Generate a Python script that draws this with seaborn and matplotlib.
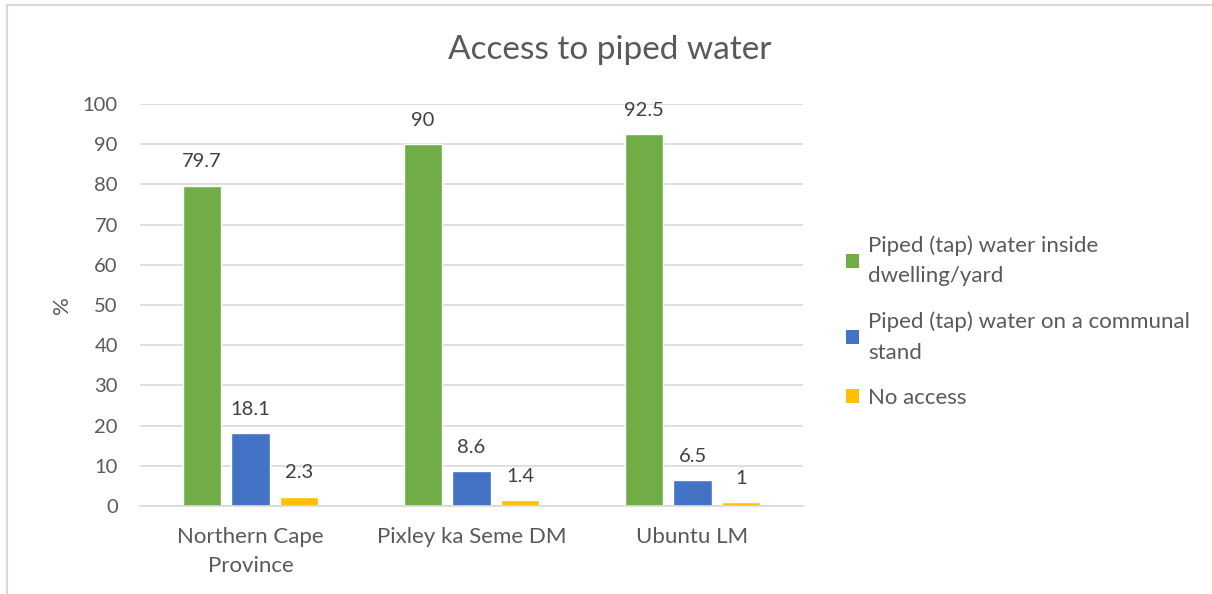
import matplotlib
matplotlib.use("Agg")
import matplotlib.pyplot as plt
import seaborn as sns
import pandas as pd
from matplotlib.lines import Line2D
from matplotlib.patches import Patch

categories = ["Northern Cape\nProvince", "Pixley ka Seme DM", "Ubuntu LM"]
series_names = ["Piped (tap) water inside\ndwelling/yard",
                "Piped (tap) water on a communal\nstand",
                "No access"]
inside = [79.7, 90, 92.5]
communal = [18.1, 8.6, 6.5]
no_access = [2.3, 1.4, 1]
value_labels = [["79.7", "90", "92.5"], ["18.1", "8.6", "6.5"], ["2.3", "1.4", "1"]]
yticks = [0, 10, 20, 30, 40, 50, 60, 70, 80, 90, 100]
colors = ["#70AD47", "#4472C4", "#FFC000"]

rows = []
for s, vals in zip(series_names, [inside, communal, no_access]):
    for c, v in zip(categories, vals):
        rows.append({"cat": c, "series": s, "value": v})
df = pd.DataFrame(rows)

sns.set_theme(style="white")
plt.rcParams['font.family'] = ['Lato', 'DejaVu Sans']
text_color = "#595959"

fig = plt.figure(figsize=(12.12, 5.94), dpi=100)
ax = fig.add_axes([140/1212, 1-506/594, (803-140)/1212, (506-104)/594])

sns.barplot(data=df, x="cat", y="value", hue="series", palette=colors,
            width=0.665, gap=0.224, ax=ax, legend=False, saturation=1)

ax.set_ylim(0, 100)
ax.set_yticks(yticks)
ax.set_yticklabels([str(t) for t in yticks], fontsize=14.5, color=text_color)
ax.tick_params(axis='x', labelsize=16, colors=text_color, length=0, pad=15)
ax.tick_params(axis='y', length=0, pad=16)
ax.yaxis.grid(True, color="#D9D9D9", linewidth=1.2)
ax.set_axisbelow(True)
for sp in ["top", "right", "left"]:
    ax.spines[sp].set_visible(False)
ax.spines["bottom"].set_color("#D9D9D9")
ax.spines["bottom"].set_linewidth(1.2)
ax.set_xlabel("")
ax.set_ylabel("%", fontsize=16, color=text_color, labelpad=8)
for lbl in ax.get_xticklabels():
    lbl.set_linespacing(1.6)

for cont, labs in zip(ax.containers, value_labels):
    ax.bar_label(cont, labels=labs, padding=11, fontsize=14.5, color="#404040")

fig.text(610/1212, 1-50/594, "Access to piped water", ha="center", va="center",
         fontsize=24, color=text_color)

handles = [Patch(facecolor=c, edgecolor="none") for c in colors]
leg = fig.legend(handles, series_names, loc="upper left",
                 bbox_to_anchor=(826/1212, 1-215/594), frameon=False,
                 fontsize=16, labelcolor=text_color, handlelength=0.6,
                 handleheight=0.6, handletextpad=0.4, labelspacing=1.15)
for t in leg.get_texts():
    t.set_linespacing(1.65)

fig.add_artist(Line2D([7/1212, 1], [1-5/594, 1-5/594], color="#D9D9D9", lw=1.5,
                      transform=fig.transFigure))
fig.add_artist(Line2D([7/1212, 7/1212], [0, 1-5/594], color="#D9D9D9", lw=1.5,
                      transform=fig.transFigure))

fig.savefig("out.png", dpi=100)
